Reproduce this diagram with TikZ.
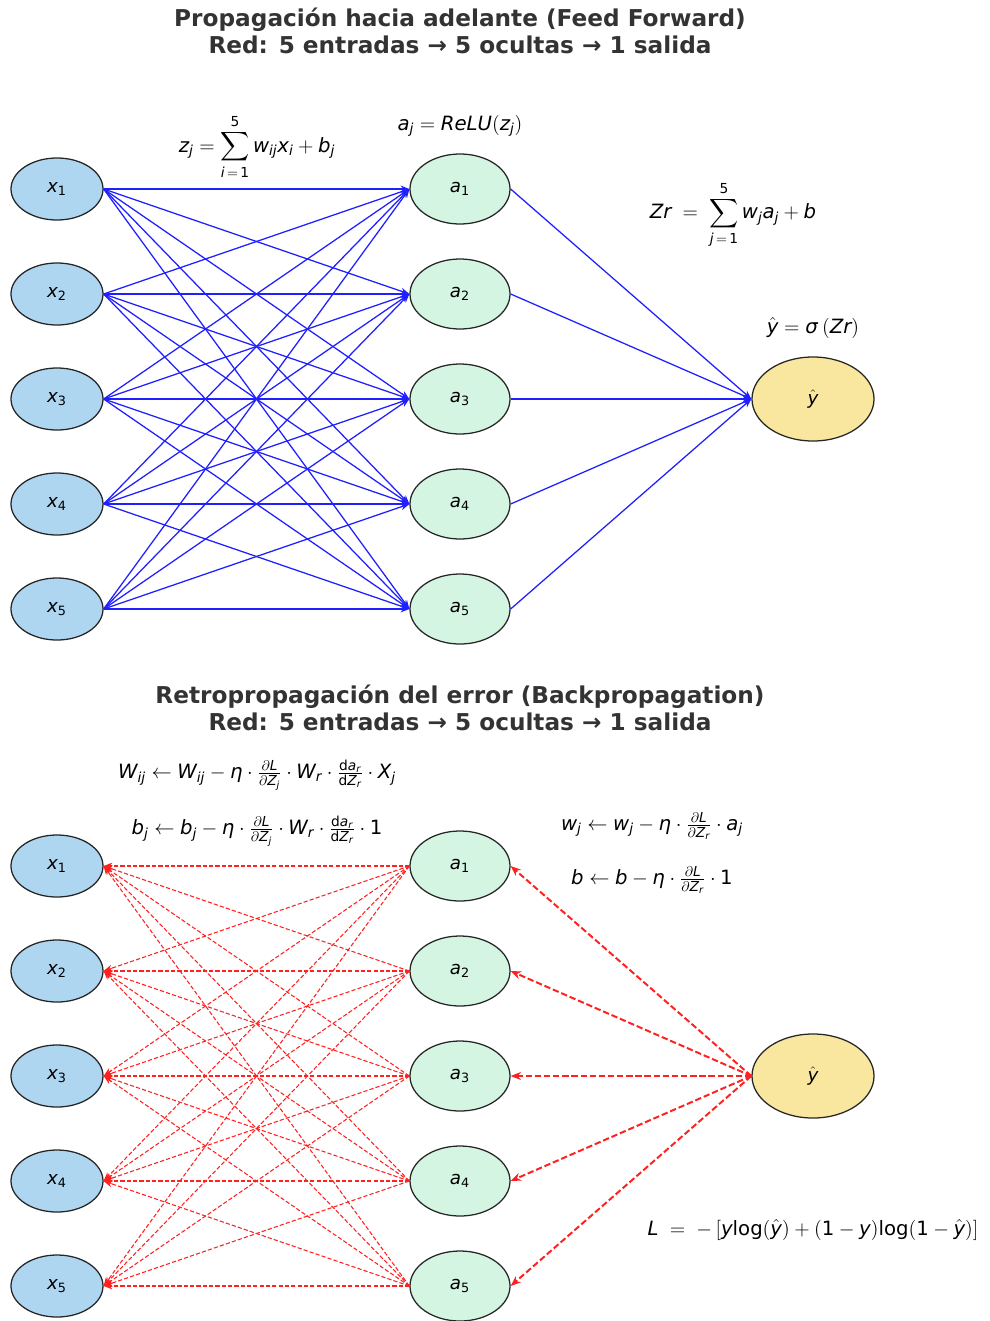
\documentclass[tikz,border=0pt]{standalone}
\usepackage{amsmath}
\usepackage{mathspec}
\setmainfont{DejaVu Sans}
\setmathsfont(Digits,Latin,Greek){DejaVu Sans}
\setmathrm{DejaVu Sans}
\usetikzlibrary{shapes.geometric,arrows.meta}

\definecolor{inblue}{HTML}{AED6F1}
\definecolor{hidgreen}{HTML}{D5F5E3}
\definecolor{outyellow}{HTML}{F9E79F}
\definecolor{titlegray}{HTML}{333333}
\definecolor{fwdblue}{HTML}{2020FF}
\definecolor{backred}{HTML}{FF2020}

\tikzset{
  titletext/.style={align=center, text=titlegray, font=\bfseries\fontsize{16.5}{19.5}\selectfont},
  formula/.style={font=\fontsize{14}{16}\selectfont, inner sep=1pt},
  neuron/.style={ellipse, draw=black!85, line width=0.9pt, inner sep=0pt, font=\fontsize{13}{15}\selectfont},
  inputnode/.style={neuron, fill=inblue, minimum width=2.3cm, minimum height=1.55cm},
  hiddennode/.style={neuron, fill=hidgreen, minimum width=2.5cm, minimum height=1.75cm},
  outputnode/.style={neuron, fill=outyellow, minimum width=3.05cm, minimum height=2.1cm},
  fwdline/.style={draw=fwdblue, line width=0.9pt, -{Stealth[length=2.2mm, width=1.7mm]}},
  backline/.style={draw=backred, line width=0.75pt, dash pattern=on 3pt off 1.5pt, -{Stealth[length=2.2mm, width=1.7mm]}},
  backout/.style={draw=backred, line width=1.4pt, dash pattern=on 4.5pt off 2pt, -{Stealth[length=2.6mm, width=2mm]}}
}

\begin{document}
\begin{tikzpicture}[x=0.025cm, y=-0.025cm]
    \useasboundingbox (0,0) rectangle (990,1321);

    % Feed forward: title
    \node[titletext] (ftitle) at (460,31) {Propagación hacia adelante (Feed Forward)\\Red: 5 entradas → 5 ocultas → 1 salida};

    % Feed forward: layers
    \foreach \i/\yy in {1/189, 2/294, 3/399, 4/504, 5/609} {
        \node[inputnode] (x\i) at (57,\yy) {$x_{\i}$};
        \node[hiddennode] (a\i) at (460,\yy) {$a_{\i}$};
    }
    \node[outputnode] (y) at (813,399) {$\hat{y}$};

    % Feed forward: connections
    \foreach \i in {1,...,5} {
        \foreach \j in {1,...,5} {
            \draw[fwdline] (x\i.east) -- (a\j.west);
        }
        \draw[fwdline] (a\i.east) -- (y.west);
    }

    % Feed forward: formulas
    \node[formula] (zsum) at (257,147) {$z_j = \displaystyle\sum_{i\,=\,1}^{5} w_{ij}x_i + b_j$};
    \node[formula] (relu) at (460,126) {$a_j = ReLU(z_j)$};
    \node[formula] (zr) at (733,215) {$Zr \;=\; \displaystyle\sum_{j\,=\,1}^{5} w_j a_j + b$};
    \node[formula] (sigm) at (813,328) {$\hat{y} = \sigma\,(Zr)$};

    % Backpropagation: title
    \node[titletext] (btitle) at (460,708) {Retropropagación del error (Backpropagation)\\Red: 5 entradas → 5 ocultas → 1 salida};

    % Backpropagation: layers
    \foreach \i/\yy in {1/866, 2/971, 3/1076, 4/1181, 5/1286} {
        \node[inputnode] (bx\i) at (57,\yy) {$x_{\i}$};
        \node[hiddennode] (ba\i) at (460,\yy) {$a_{\i}$};
    }
    \node[outputnode] (by) at (813,1076) {$\hat{y}$};

    % Backpropagation: connections
    \foreach \i in {1,...,5} {
        \foreach \j in {1,...,5} {
            \draw[backline] (ba\j.west) -- (bx\i.east);
        }
        \draw[backout] (by.west) -- (ba\i.east);
    }

    % Backpropagation: update rules
    \node[formula] (wupd) at (257,775) {$W_{ij} \leftarrow W_{ij} - \eta\cdot\tfrac{\partial L}{\partial Z_j}\cdot W_r\cdot\tfrac{\mathrm{d}a_r}{\mathrm{d}Z_r}\cdot X_j$};
    \node[formula] (bupd) at (257,831) {$b_j \leftarrow b_j - \eta\cdot\tfrac{\partial L}{\partial Z_j}\cdot W_r\cdot\tfrac{\mathrm{d}a_r}{\mathrm{d}Z_r}\cdot 1$};
    \node[formula] (woupd) at (652,826) {$w_j \leftarrow w_j - \eta\cdot\tfrac{\partial L}{\partial Z_r}\cdot a_j$};
    \node[formula] (boupd) at (652,880) {$b \leftarrow b - \eta\cdot\tfrac{\partial L}{\partial Z_r}\cdot 1$};
    \node[formula] (loss) at (813,1230) {$L \;=\; -\left[y\mathrm{log}(\hat{y}) + (1-y)\mathrm{log}(1-\hat{y})\right]$};
\end{tikzpicture}
\end{document}
